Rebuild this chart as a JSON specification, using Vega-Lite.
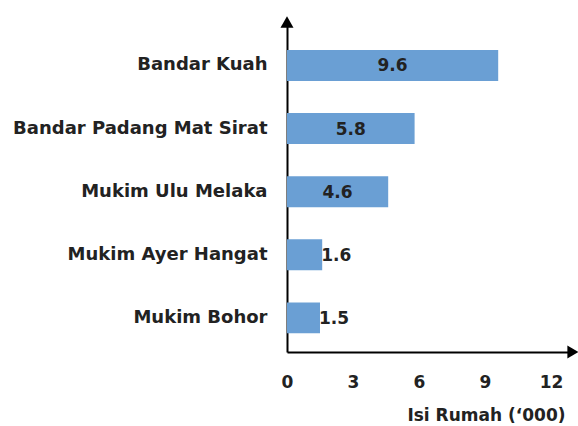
{
  "$schema": "https://vega.github.io/schema/vega-lite/v6.json",
  "autosize": {"type": "none"},
  "width": 286,
  "height": 330,
  "padding": {"left": 287, "top": 22, "right": 5, "bottom": 74},
  "background": "white",
  "config": {
    "view": {"stroke": null},
    "font": "DejaVu Sans",
    "axis": {"labelFont": "DejaVu Sans", "titleFont": "DejaVu Sans"}
  },
  "data": {
    "values": [
      {"kawasan": "Bandar Kuah", "nilai": 9.6},
      {"kawasan": "Bandar Padang Mat Sirat", "nilai": 5.8},
      {"kawasan": "Mukim Ulu Melaka", "nilai": 4.6},
      {"kawasan": "Mukim Ayer Hangat", "nilai": 1.6},
      {"kawasan": "Mukim Bohor", "nilai": 1.5}
    ]
  },
  "layer": [
    {
      "layer": [
        {
          "mark": {"type": "bar", "color": "#6a9fd4"},
          "encoding": {
            "y": {
              "field": "kawasan", "type": "nominal", "sort": null,
              "scale": {"paddingInner": 0.51, "paddingOuter": 0.37, "align": 0.6},
              "axis": {
                "title": null, "domainColor": "black", "domainWidth": 2,
                "ticks": false, "labelPadding": 20, "labelFontSize": 18,
                "labelFontWeight": "bold", "labelColor": "#222", "labelLimit": 300
              }
            },
            "x": {
              "field": "nilai", "type": "quantitative",
              "scale": {"domain": [0, 13], "nice": false},
              "axis": {
                "values": [0, 3, 6, 9, 12], "grid": false, "ticks": false,
                "domainColor": "black", "domainWidth": 2,
                "labelPadding": 22, "labelFontSize": 17, "labelFontWeight": "bold",
                "labelColor": "#222", "labelFlush": false,
                "title": "Isi Rumah (‘000)", "titleFontSize": 17, "titleFontWeight": "bold",
                "titleColor": "#222", "titleAnchor": "end", "titleAlign": "right",
                "titleX": 278, "titlePadding": 17
              }
            }
          }
        },
        {
          "transform": [{"filter": "datum.nilai >= 3"}, {"calculate": "datum.nilai / 2", "as": "tengah"}],
          "mark": {"type": "text", "fontSize": 17, "fontWeight": "bold", "color": "#222", "baseline": "middle", "dy": 1},
          "encoding": {
            "y": {"field": "kawasan", "type": "nominal", "sort": null},
            "x": {"field": "tengah", "type": "quantitative"},
            "text": {"field": "nilai", "type": "quantitative", "format": ".1f"}
          }
        },
        {
          "transform": [{"filter": "datum.nilai < 3"}],
          "mark": {"type": "text", "fontSize": 17, "fontWeight": "bold", "color": "#222", "baseline": "middle", "align": "left", "dx": -1, "dy": 1},
          "encoding": {
            "y": {"field": "kawasan", "type": "nominal", "sort": null},
            "x": {"field": "nilai", "type": "quantitative"},
            "text": {"field": "nilai", "type": "quantitative", "format": ".1f"}
          }
        }
      ]
    },
    {
      "data": {"values": [{"arah": "atas", "px": 0, "py": 1, "bentuk": "triangle-up"}, {"arah": "kanan", "px": 13, "py": 0, "bentuk": "triangle-right"}]},
      "mark": {"type": "point", "filled": true, "color": "black", "size": 170, "opacity": 1},
      "encoding": {
        "x": {"field": "px", "type": "quantitative"},
        "y": {"field": "py", "type": "quantitative", "scale": {"domain": [0, 1]}, "axis": null},
        "shape": {"field": "bentuk", "type": "nominal", "scale": {"domain": ["triangle-up", "triangle-right"], "range": ["triangle-up", "triangle-right"]}, "legend": null}
      }
    }
  ],
  "resolve": {"scale": {"y": "independent"}}
}
